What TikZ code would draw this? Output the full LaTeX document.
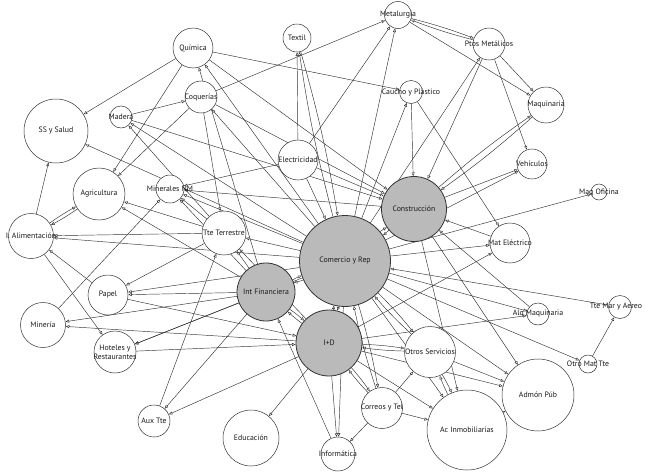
\documentclass[tikz,border=0pt]{standalone}
\usepackage{fontspec}
\setmainfont{PT Sans}
\usetikzlibrary{arrows.meta,backgrounds}
\newcommand\lblfont{\fontsize{7.8}{8.8}\selectfont}
\begin{document}
\begin{tikzpicture}[x=1pt,y=-1pt,
  nd/.style={circle, draw=black!80, line width=0.5pt, fill=white, inner sep=0pt},
  hub/.style={nd, fill=black!27, line width=0.8pt},
  lab/.style={font=\lblfont, text=black!90, align=center, inner sep=0pt},
  ar/.style={draw=black!80, line width=0.45pt, -{Triangle[open,length=3.6pt,width=3pt]}},
  bl/.style={ar, bend left=3}]
\useasboundingbox (0,0) rectangle (645,474);
% nodes
\node[nd, minimum size=40pt, label={[lab]center:Química}] (qui) at (193,48) {};
\node[nd, minimum size=28pt, label={[lab]center:Textil}] (tex) at (297,38) {};
\node[nd, minimum size=27pt, label={[lab]center:Metalurgia}] (met) at (398,15) {};
\node[nd, minimum size=32pt, label={[lab]center:Ptos Metálicos}] (ptm) at (489,44) {};
\node[nd, minimum size=23pt, label={[lab]center:Caucho y Plástico}] (cau) at (411,92) {};
\node[nd, minimum size=36pt, label={[lab]center:Maquinaria}] (maq) at (546,105) {};
\node[nd, minimum size=30pt, label={[lab]center:Vehículos}] (veh) at (532,164) {};
\node[nd, minimum size=16pt, label={[lab]center:Maq Oficina}] (mof) at (599,192) {};
\node[nd, minimum size=64pt, label={[lab]center:SS y Salud}] (sss) at (56,131) {};
\node[nd, minimum size=22pt, label={[lab]center:Madera}] (mad) at (121,117) {};
\node[nd, minimum size=32pt, label={[lab]center:Coquerías}] (coq) at (201,97) {};
\node[nd, minimum size=40pt, label={[lab]center:Electricidad}] (ele) at (298,160) {};
\node[nd, minimum size=52pt, label={[lab]center:Agricultura}] (agr) at (99,194) {};
\node[nd, minimum size=28pt, label={[lab]center:Minerales NM}] (mnm) at (170,189) {};
\node[hub, minimum size=65pt, label={[lab]center:Construcción}] (con) at (414,209) {};
\node[nd, minimum size=45pt, label={[lab]center:I. Alimentación}] (ali) at (31,236) {};
\node[nd, minimum size=44pt, label={[lab]center:Tte Terrestre}] (tte) at (224,233) {};
\node[nd, minimum size=40pt, label={[lab]center:Mat Eléctrico}] (mel) at (510,243) {};
\node[hub, minimum size=91pt, label={[lab]center:Comercio y Rep}] (com) at (345,261) {};
\node[hub, minimum size=58pt, label={[lab]center:Int Financiera}] (inf) at (266,292) {};
\node[nd, minimum size=40pt, label={[lab]center:Papel}] (pap) at (108,295) {};
\node[nd, minimum size=45pt, label={[lab]center:Minería}] (min) at (43,325) {};
\node[nd, minimum size=22pt, label={[lab]center:Alq Maquinaria}] (alq) at (538,314) {};
\node[nd, minimum size=23pt, label={[lab,xshift=-4pt]center:Tte Mar y Aereo}] (tma) at (620,307) {};
\node[hub, minimum size=66pt, label={[lab]center:I+D}] (id) at (329,343) {};
\node[nd, minimum size=42pt, label={[lab]center:Hoteles y\\Restaurantes}] (hot) at (115,352) {};
\node[nd, minimum size=51pt, label={[lab]center:Otros Servicios}] (otr) at (430,352) {};
\node[nd, minimum size=18pt, label={[lab]center:Otro Mat Tte}] (omt) at (588,364) {};
\node[nd, minimum size=72pt, label={[lab]center:Admón Púb}] (adm) at (538,395) {};
\node[nd, minimum size=32pt, label={[lab]center:Aux Tte}] (aux) at (154,421) {};
\node[nd, minimum size=56pt, label={[lab]center:Educación}] (edu) at (251,438) {};
\node[nd, minimum size=41pt, label={[lab]center:Correos y Tel}] (cor) at (382,408) {};
\node[nd, minimum size=80pt, label={[lab]center:Ac Inmobiliarias}] (aci) at (467,430) {};
\node[nd, minimum size=34pt, label={[lab]center:Informática}] (ifm) at (338,454) {};
% edges
\begin{pgfonlayer}{background}
\fill[white] (0,0) rectangle (645,474);
\draw[bl] (ptm) to (met); \draw[bl] (met) to (ptm);
\draw[ar] (met) -- (maq);
\draw[ar] (ptm) -- (maq);
\draw[ar] (ptm) -- (veh);
\draw[ar] (ptm) -- (con);
\draw[ar] (com) -- (ptm);
\draw[ar] (coq) -- (met);
\draw[ar] (ele) -- (met);
\draw[ar] (com) -- (met);
\draw[ar] (qui) -- (cau);
\draw[ar] (qui) -- (sss);
\draw[ar] (qui) -- (agr);
\draw[ar] (qui) -- (con);
\draw[ar] (com) -- (qui);
\draw[ar] (inf) -- (qui);
\draw[ar] (mad) -- (coq);
\draw[ar] (coq) -- (agr);
\draw[ar] (coq) -- (tte);
\draw[ar] (coq) -- (con);
\draw[ar] (com) -- (coq);
\draw[ar] (mad) -- (con);
\draw[ar] (com) -- (mad);
\draw[ar] (tte) -- (mad);
\draw[ar] (com) -- (sss);
\draw[ar] (ali) -- (sss);
\draw[bl] (agr) to (ali); \draw[bl] (ali) to (agr);
\draw[ar] (tte) -- (agr);
\draw[ar] (inf) -- (agr);
\draw[ar] (min) -- (mnm);
\draw[ar] (ele) -- (mnm);
\draw[ar] (con) -- (mnm);
\draw[ar] (com) -- (mnm);
\draw[ar] (tte) -- (mnm);
\draw[ar] (inf) -- (mnm);
\draw[ar] (tte) -- (ali);
\draw[ar] (com) -- (ali);
\draw[ar] (pap) -- (ali);
\draw[ar] (ali) -- (hot);
\draw[ar] (tte) -- (pap);
\draw[ar] (inf) -- (pap);
\draw[ar] (com) -- (pap);
\draw[ar] (pap) -- (id);
\draw[ar] (inf) -- (min);
\draw[ar] (id) -- (min);
\draw[ar] (inf) -- (hot);
\draw[ar] (com) -- (hot);
\draw[ar] (hot) -- (id);
\draw[ar] (inf) -- (aux);
\draw[ar] (id) -- (aux);
\draw[ar] (aux) -- (tte);
\draw[ar] (id) -- (edu);
\draw[ar] (ifm) -- (inf);
\draw[ar] (id) -- (ifm);
\draw[ar] (com) -- (ifm);
\draw[ar] (cor) -- (ifm);
\draw[ar] (cor) -- (otr);
\draw[ar] (cor) -- (aci);
\draw[bl] (id) to (cor); \draw[bl] (cor) to (id);
\draw[bl] (com) to (cor); \draw[bl] (cor) to (com);
\draw[bl] (com) to (otr); \draw[bl] (otr) to (com);
\draw[bl] (id) to (otr); \draw[bl] (otr) to (id);
\draw[bl] (otr) to (aci); \draw[bl] (aci) to (otr);
\draw[ar] (otr) -- (adm);
\draw[ar] (aci) -- (adm);
\draw[ar] (id) -- (aci);
\draw[ar] (com) -- (aci);
\draw[ar] (con) -- (adm);
\draw[ar] (com) -- (adm);
\draw[ar] (id) -- (adm);
\draw[ar] (con) -- (aci);
\draw[ar] (com) -- (omt);
\draw[ar] (omt) -- (tma);
\draw[ar] (tma) -- (com);
\draw[ar] (alq) -- (con);
\draw[ar] (com) -- (alq);
\draw[ar] (id) -- (alq);
\draw[ar] (com) -- (mel);
\draw[ar] (id) -- (mel);
\draw[ar] (mel) -- (con);
\draw[ar] (cau) -- (mel);
\draw[ar] (com) -- (mof);
\draw[ar] (con) -- (veh);
\draw[ar] (com) -- (veh);
\draw[bl] (con) to (maq); \draw[bl] (maq) to (con);
\draw[ar] (com) -- (cau);
\draw[ar] (cau) -- (con);
\draw[ar] (ele) -- (tex);
\draw[bl] (tex) to (com); \draw[bl] (com) to (tex);
\draw[ar] (ele) -- (con);
\draw[ar] (ele) -- (com);
\draw[ar] (com) -- (tte);
\draw[ar] (id) -- (tte);
\draw[ar] (inf) -- (tte);
\draw[bl] (inf) to (com); \draw[bl] (com) to (inf);
\draw[bl] (inf) to (id); \draw[bl] (id) to (inf);
\draw[bl] (id) to (com); \draw[bl] (com) to (id);
\draw[bl] (con) to (com); \draw[bl] (com) to (con);
\end{pgfonlayer}
\end{tikzpicture}
\end{document}
